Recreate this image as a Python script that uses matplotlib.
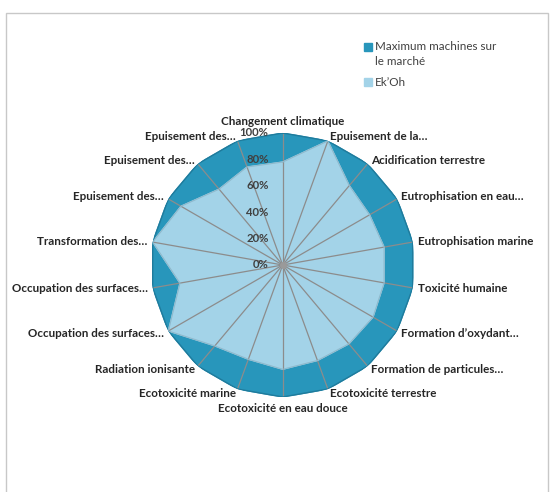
import numpy as np
import matplotlib.pyplot as plt
from matplotlib.patches import Rectangle
from matplotlib.transforms import offset_copy

plt.rcParams['font.family'] = ['Lato', 'DejaVu Sans']

categories = ["Changement climatique", "Epuisement de la…", "Acidification terrestre",
              "Eutrophisation en eau…", "Eutrophisation marine", "Toxicité humaine",
              "Formation d’oxydant…", "Formation de particules…", "Ecotoxicité terrestre",
              "Ecotoxicité en eau douce", "Ecotoxicité marine", "Radiation ionisante",
              "Occupation des surfaces…", "Occupation des surfaces…", "Transformation des…",
              "Epuisement des…", "Epuisement des…", "Epuisement des…"]
maximum = [1.0] * 18
ekoh = [0.78, 1.0, 0.785, 0.76, 0.78, 0.78, 0.79, 0.78, 0.77,
        0.79, 0.76, 0.80, 1.0, 0.79, 1.0, 0.89, 0.75, 0.79]
rticks = [0, 0.2, 0.4, 0.6, 0.8, 1.0]
rlabels = ["0%", "20%", "40%", "60%", "80%", "100%"]
series_names = ["Maximum machines sur\nle marché", "Ek’Oh"]

dark = '#2896bb'
light = '#a3d3e8'

fig = plt.figure(figsize=(5.53, 4.92), dpi=100)
ax = fig.add_axes([0.2725, 0.1931, 0.4774, 0.5366], projection='polar')
ax.set_theta_zero_location('N')
ax.set_theta_direction(-1)

n = len(categories)
theta = np.arange(n) * 2 * np.pi / n
th = np.append(theta, theta[0])

m = np.append(maximum, maximum[0])
e = np.append(ekoh, ekoh[0])
ax.fill(th, m, color=dark, zorder=1)
ax.plot(th, m, color='#1f7b9c', lw=1.0, zorder=3)
ax.fill(th, e, color=light, zorder=1.5)
ax.plot(th, e, color='#8fb9cc', lw=0.8, zorder=3)

ax.set_ylim(0, 1)
ax.set_xticks(theta)
ax.set_xticklabels([])
ax.set_yticks([])
ax.spines['polar'].set_visible(False)
ax.set_axisbelow(False)
ax.xaxis.grid(True, color='#8c8c8c', lw=0.9)
ax.yaxis.grid(False)
ax.patch.set_alpha(0)
ax.plot(0, 0, 'o', color='#9a9a9a', ms=4, zorder=4)

# category labels
for t, lab in zip(theta, categories):
    deg = np.degrees(t)
    dx = 5 * np.sin(t)
    dy = 5 * np.cos(t)
    if abs(deg) < 1:
        ha, va, dy = 'center', 'bottom', 6
    elif abs(deg - 180) < 1:
        ha, va, dy = 'center', 'top', -6
    elif deg < 180:
        ha, va = 'left', 'center'
    else:
        ha, va = 'right', 'center'
    tr = offset_copy(ax.transData, fig=fig, x=dx, y=dy, units='dots')
    ax.text(t, 1.0, lab, transform=tr, ha=ha, va=va, fontsize=8.4,
            fontweight='bold', color='#262626', zorder=5)

# radial labels
tr = offset_copy(ax.transData, fig=fig, x=-14, y=0, units='dots')
for r, lab in zip(rticks, rlabels):
    ax.text(0, r, lab, transform=tr, ha='right', va='center', fontsize=8.2,
            fontweight='bold', color='#404040', zorder=5)

# legend
fig.patches.append(Rectangle((364 / 553, 1 - 51 / 492), 8 / 553, 8 / 492,
                             transform=fig.transFigure, color=dark))
fig.patches.append(Rectangle((364 / 553, 1 - 86 / 492), 8 / 553, 8 / 492,
                             transform=fig.transFigure, color=light))
fig.text(375 / 553, 1 - 41 / 492, series_names[0], ha='left', va='top',
         fontsize=8.4, color='#404040', linespacing=1.45)
fig.text(375 / 553, 1 - 82 / 492, series_names[1], ha='left', va='center',
         fontsize=8.4, color='#404040')

# chart border
fig.patches.append(Rectangle((6 / 553, -0.1), 542 / 553, 1.0736,
                             transform=fig.transFigure, fill=False,
                             ec='#c8c8c8', lw=1))

fig.savefig('out.png', dpi=100)
